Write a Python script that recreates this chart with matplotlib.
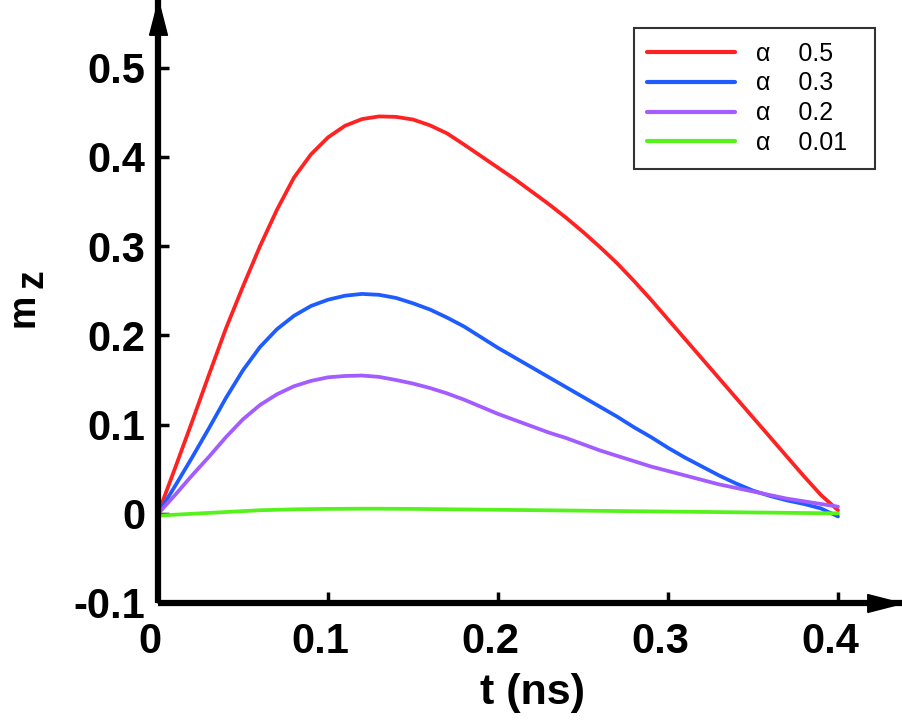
import matplotlib
matplotlib.use("Agg")
import matplotlib.pyplot as plt
from matplotlib.transforms import ScaledTranslation

plt.rcParams['font.family'] = ['Liberation Sans', 'DejaVu Sans']

t = [0.00, 0.01, 0.02, 0.03, 0.04, 0.05, 0.06, 0.07, 0.08, 0.09, 0.10,
     0.11, 0.12, 0.13, 0.14, 0.15, 0.16, 0.17, 0.18, 0.19, 0.20,
     0.21, 0.22, 0.23, 0.24, 0.25, 0.26, 0.27, 0.28, 0.29, 0.30,
     0.31, 0.32, 0.33, 0.34, 0.35, 0.36, 0.37, 0.38, 0.39, 0.40]
mz_05 = [0.000, 0.051, 0.103, 0.156, 0.208, 0.255, 0.300, 0.341, 0.377, 0.403, 0.422,
         0.435, 0.4425, 0.4455, 0.445, 0.442, 0.4355, 0.4265, 0.414, 0.401, 0.388,
         0.375, 0.361, 0.347, 0.332, 0.316, 0.299, 0.281, 0.261, 0.240, 0.218,
         0.196, 0.174, 0.152, 0.130, 0.108, 0.086, 0.064, 0.042, 0.021, 0.004]
mz_03 = [0.000, 0.031, 0.063, 0.096, 0.130, 0.161, 0.187, 0.207, 0.222, 0.233, 0.240,
         0.2445, 0.2465, 0.2455, 0.242, 0.236, 0.229, 0.220, 0.210, 0.198, 0.186,
         0.175, 0.164, 0.153, 0.142, 0.131, 0.120, 0.109, 0.097, 0.086, 0.074,
         0.063, 0.053, 0.043, 0.034, 0.026, 0.020, 0.015, 0.011, 0.006, -0.003]
mz_02 = [0.000, 0.021, 0.043, 0.064, 0.086, 0.106, 0.122, 0.134, 0.143, 0.149, 0.153,
         0.1545, 0.155, 0.1535, 0.150, 0.146, 0.141, 0.135, 0.128, 0.120, 0.112,
         0.105, 0.098, 0.091, 0.085, 0.078, 0.071, 0.065, 0.059, 0.053, 0.048,
         0.043, 0.038, 0.033, 0.029, 0.025, 0.021, 0.017, 0.014, 0.011, 0.008]
mz_001 = [-0.002, -0.001, 0.000, 0.001, 0.002, 0.003, 0.004, 0.0045, 0.005, 0.0053, 0.0055,
          0.0056, 0.0057, 0.0057, 0.0056, 0.0055, 0.0053, 0.0051, 0.0049, 0.0047, 0.0045,
          0.0043, 0.0041, 0.0039, 0.0037, 0.0035, 0.0033, 0.0031, 0.0029, 0.0027, 0.0025,
          0.0023, 0.0021, 0.0019, 0.0017, 0.0015, 0.0013, 0.0011, 0.0009, 0.0007, 0.0005]

series = [mz_05, mz_03, mz_02, mz_001]
labels = ["α    0.5", "α    0.3", "α    0.2", "α    0.01  "]
colors = ["#FF2222", "#1F5CFF", "#A25CFF", "#55F21C"]

xticks = [0, 0.1, 0.2, 0.3, 0.4]
xticklabels = ["0", "0.1", "0.2", "0.3", "0.4"]
yticks = [-0.1, 0, 0.1, 0.2, 0.3, 0.4, 0.5]
yticklabels = ["-0.1", "0", "0.1", "0.2", "0.3", "0.4", "0.5"]

W, H = 902, 722
fig = plt.figure(figsize=(W / 100, H / 100), dpi=100)
x0, x_tip = 158, 902
y_bot, y_top = 603, 0
ax = fig.add_axes([x0 / W, (H - y_bot) / H, (x_tip - x0) / W, (y_bot - y_top) / H])
ax.set_xlim(0, (x_tip - x0) / 1700)
ax.set_ylim(-0.1, -0.1 + (y_bot - y_top) / 892)

for s, lab, c in zip(series, labels, colors):
    ax.plot(t, s, color=c, lw=2.7, label=lab, solid_joinstyle='round', solid_capstyle='round')

for sp in ['top', 'right']:
    ax.spines[sp].set_visible(False)
for sp in ['left', 'bottom']:
    ax.spines[sp].set_linewidth(4.5)
    ax.spines[sp].set_capstyle('butt')

ax.set_xticks(xticks)
ax.set_xticklabels(xticklabels)
ax.set_yticks(yticks)
ax.set_yticklabels(yticklabels)
ax.tick_params(direction='in', length=8, width=2.5, labelsize=30)
ax.tick_params(axis='x', pad=14)
ax.tick_params(axis='y', pad=9)
for lbl in ax.get_xticklabels() + ax.get_yticklabels():
    lbl.set_fontweight('bold')
for lbl in ax.get_xticklabels():
    lbl.set_transform(lbl.get_transform() + ScaledTranslation(-8 / 100, 0, fig.dpi_scale_trans))

# arrow heads
arrow_r = [(-35, -9), (0, 0), (-35, 9), (-35, -9)]
arrow_u = [(-9, -35), (0, 0), (9, -35), (-9, -35)]
ax.plot([1], [0], marker=arrow_r, markersize=50, color='k', transform=ax.transAxes, clip_on=False)
ax.plot([0], [1], marker=arrow_u, markersize=50, color='k', transform=ax.transAxes, clip_on=False)

ax.set_xlabel("t (ns)", fontsize=31, fontweight='bold')
ax.xaxis.set_label_coords((532 - x0) / (x_tip - x0), -(693 - y_bot) / (y_bot - y_top))
ax.xaxis.label.set_va('center')

fig.text(23 / W, 1 - 310 / H, "m", rotation=90, fontsize=27, fontweight='bold', ha='center', va='center')
fig.text(33 / W, 1 - 279 / H, "z", rotation=90, fontsize=27, fontweight='bold', ha='center', va='center')

leg = ax.legend(loc='upper right', bbox_to_anchor=(875 / W, 1 - 28 / H), bbox_transform=fig.transFigure,
                fontsize=18, frameon=True, fancybox=False, borderaxespad=0, handlelength=3.5,
                handletextpad=0.85, labelspacing=0.23, borderpad=0.55)
leg.get_frame().set_edgecolor('black')
leg.get_frame().set_linewidth(1.5)
for line in leg.get_lines():
    line.set_linewidth(3)

fig.savefig("out.png", dpi=100)
